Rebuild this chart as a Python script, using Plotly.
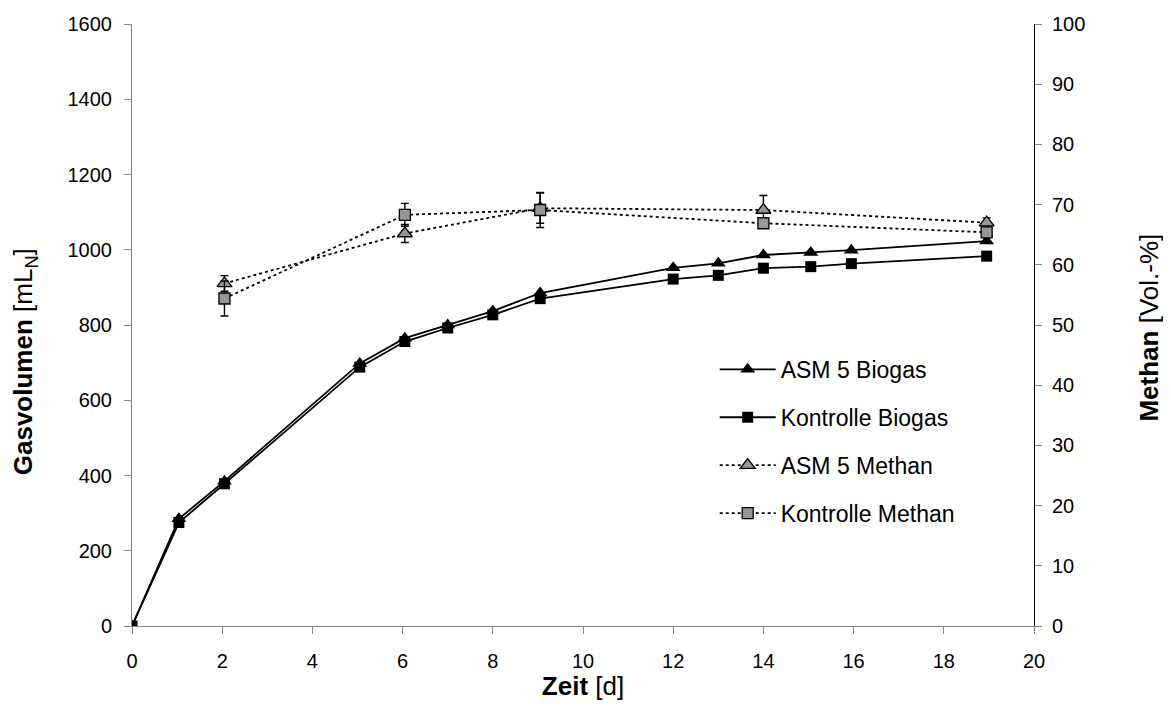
import plotly.graph_objects as go

# Biogas data (left axis, mL_N)
days_bio = [0, 1.04, 2.05, 5.05, 6.05, 7.0, 8.0, 9.05, 12.0, 13.0, 14.0, 15.05, 15.95, 18.95]
asm_biogas = [0, 285, 385, 698, 765, 800, 837, 885, 952, 964, 986, 993, 999, 1023]
ktr_biogas = [0, 275, 378, 688, 756, 792, 827, 870, 922, 932, 951, 955, 963, 983]

# Methane data (right axis, Vol.-%)
days_ch4 = [2.05, 6.05, 9.05, 14.0, 18.95]
asm_methan = [56.9, 65.2, 69.4, 69.1, 67.0]
asm_methan_err = [1.3, 1.5, 2.5, 2.4, 0.8]
ktr_methan = [54.4, 68.3, 69.1, 66.9, 65.4]
ktr_methan_err = [2.9, 1.9, 2.9, 0.8, 0.8]

FONT = "Liberation Sans, Arial, sans-serif"
GREY = "#969696"
AXGREY = "#868686"

fig = go.Figure()

fig.add_trace(go.Scatter(
    x=days_bio, y=asm_biogas, name="ASM 5 Biogas", legendgroup="a",
    mode="lines+markers", line=dict(color="black", width=1.8),
    marker=dict(symbol="triangle-up", size=13, color="black"),
))
fig.add_trace(go.Scatter(
    x=days_bio, y=ktr_biogas, name="Kontrolle Biogas", legendgroup="b",
    mode="lines+markers", line=dict(color="black", width=1.8),
    marker=dict(symbol="square", size=11, color="black"),
))
fig.add_trace(go.Scatter(
    x=days_ch4, y=asm_methan, name="ASM 5 Methan", legendgroup="c", yaxis="y2",
    mode="lines+markers", line=dict(color="black", width=1.8, dash="3px,3px"),
    marker=dict(symbol="triangle-up", size=13, color=GREY, line=dict(color="black", width=1.3)),
    error_y=dict(type="data", array=asm_methan_err, color="black", thickness=1.4, width=4),
))
fig.add_trace(go.Scatter(
    x=days_ch4, y=ktr_methan, name="Kontrolle Methan", legendgroup="d", yaxis="y2",
    mode="lines+markers", line=dict(color="black", width=1.8, dash="3px,3px"),
    marker=dict(symbol="square", size=11, color=GREY, line=dict(color="black", width=1.3)),
    error_y=dict(type="data", array=ktr_methan_err, color="black", thickness=1.4, width=4),
))

fig.update_layout(
    width=1155, height=693,
    margin=dict(l=124, r=129, t=16, b=75, autoexpand=False),
    paper_bgcolor="white", plot_bgcolor="white",
    font=dict(family=FONT, size=20, color="black"),
    showlegend=True,
    legend=dict(
        x=0.646, y=0.462, xanchor="left", yanchor="top",
        font=dict(size=23, family=FONT),
        bgcolor="rgba(0,0,0,0)", tracegroupgap=15, itemwidth=56,
    ),
    xaxis=dict(
        range=[0, 20], tickvals=[0, 2, 4, 6, 8, 10, 12, 14, 16, 18, 20],
        showgrid=False, zeroline=False, showline=True, linecolor=AXGREY, linewidth=1,
        ticks="outside", ticklen=7, tickcolor=AXGREY, ticklabelstandoff=10,
        title=dict(text="<b>Zeit</b> [d]", font=dict(size=26), standoff=7),
    ),
    yaxis=dict(
        range=[0, 1600], tickvals=[0, 200, 400, 600, 800, 1000, 1200, 1400, 1600],
        showgrid=False, zeroline=False, showline=True, linecolor=AXGREY, linewidth=1,
        ticks="outside", ticklen=7, tickcolor=AXGREY, ticklabelstandoff=8,
    ),
    yaxis2=dict(
        range=[0, 100], tickvals=list(range(0, 101, 10)), overlaying="y", side="right",
        showgrid=False, zeroline=False, showline=True, linecolor="black", linewidth=1,
        ticks="outside", ticklen=7, tickcolor=AXGREY, ticklabelstandoff=6,
    ),
    annotations=[
        dict(text="<b>Gasvolumen</b> [mL<sub>N</sub>]", textangle=-90,
             xref="paper", yref="paper", x=-0.1195, y=0.4385,
             xanchor="center", yanchor="middle", showarrow=False,
             font=dict(size=26, family=FONT, color="black")),
        dict(text="<b>Methan</b> [Vol.-%]", textangle=-90,
             xref="paper", yref="paper", x=1.127, y=0.495,
             xanchor="center", yanchor="middle", showarrow=False,
             font=dict(size=26, family=FONT, color="black")),
    ],
)

fig.write_html("out.html")
